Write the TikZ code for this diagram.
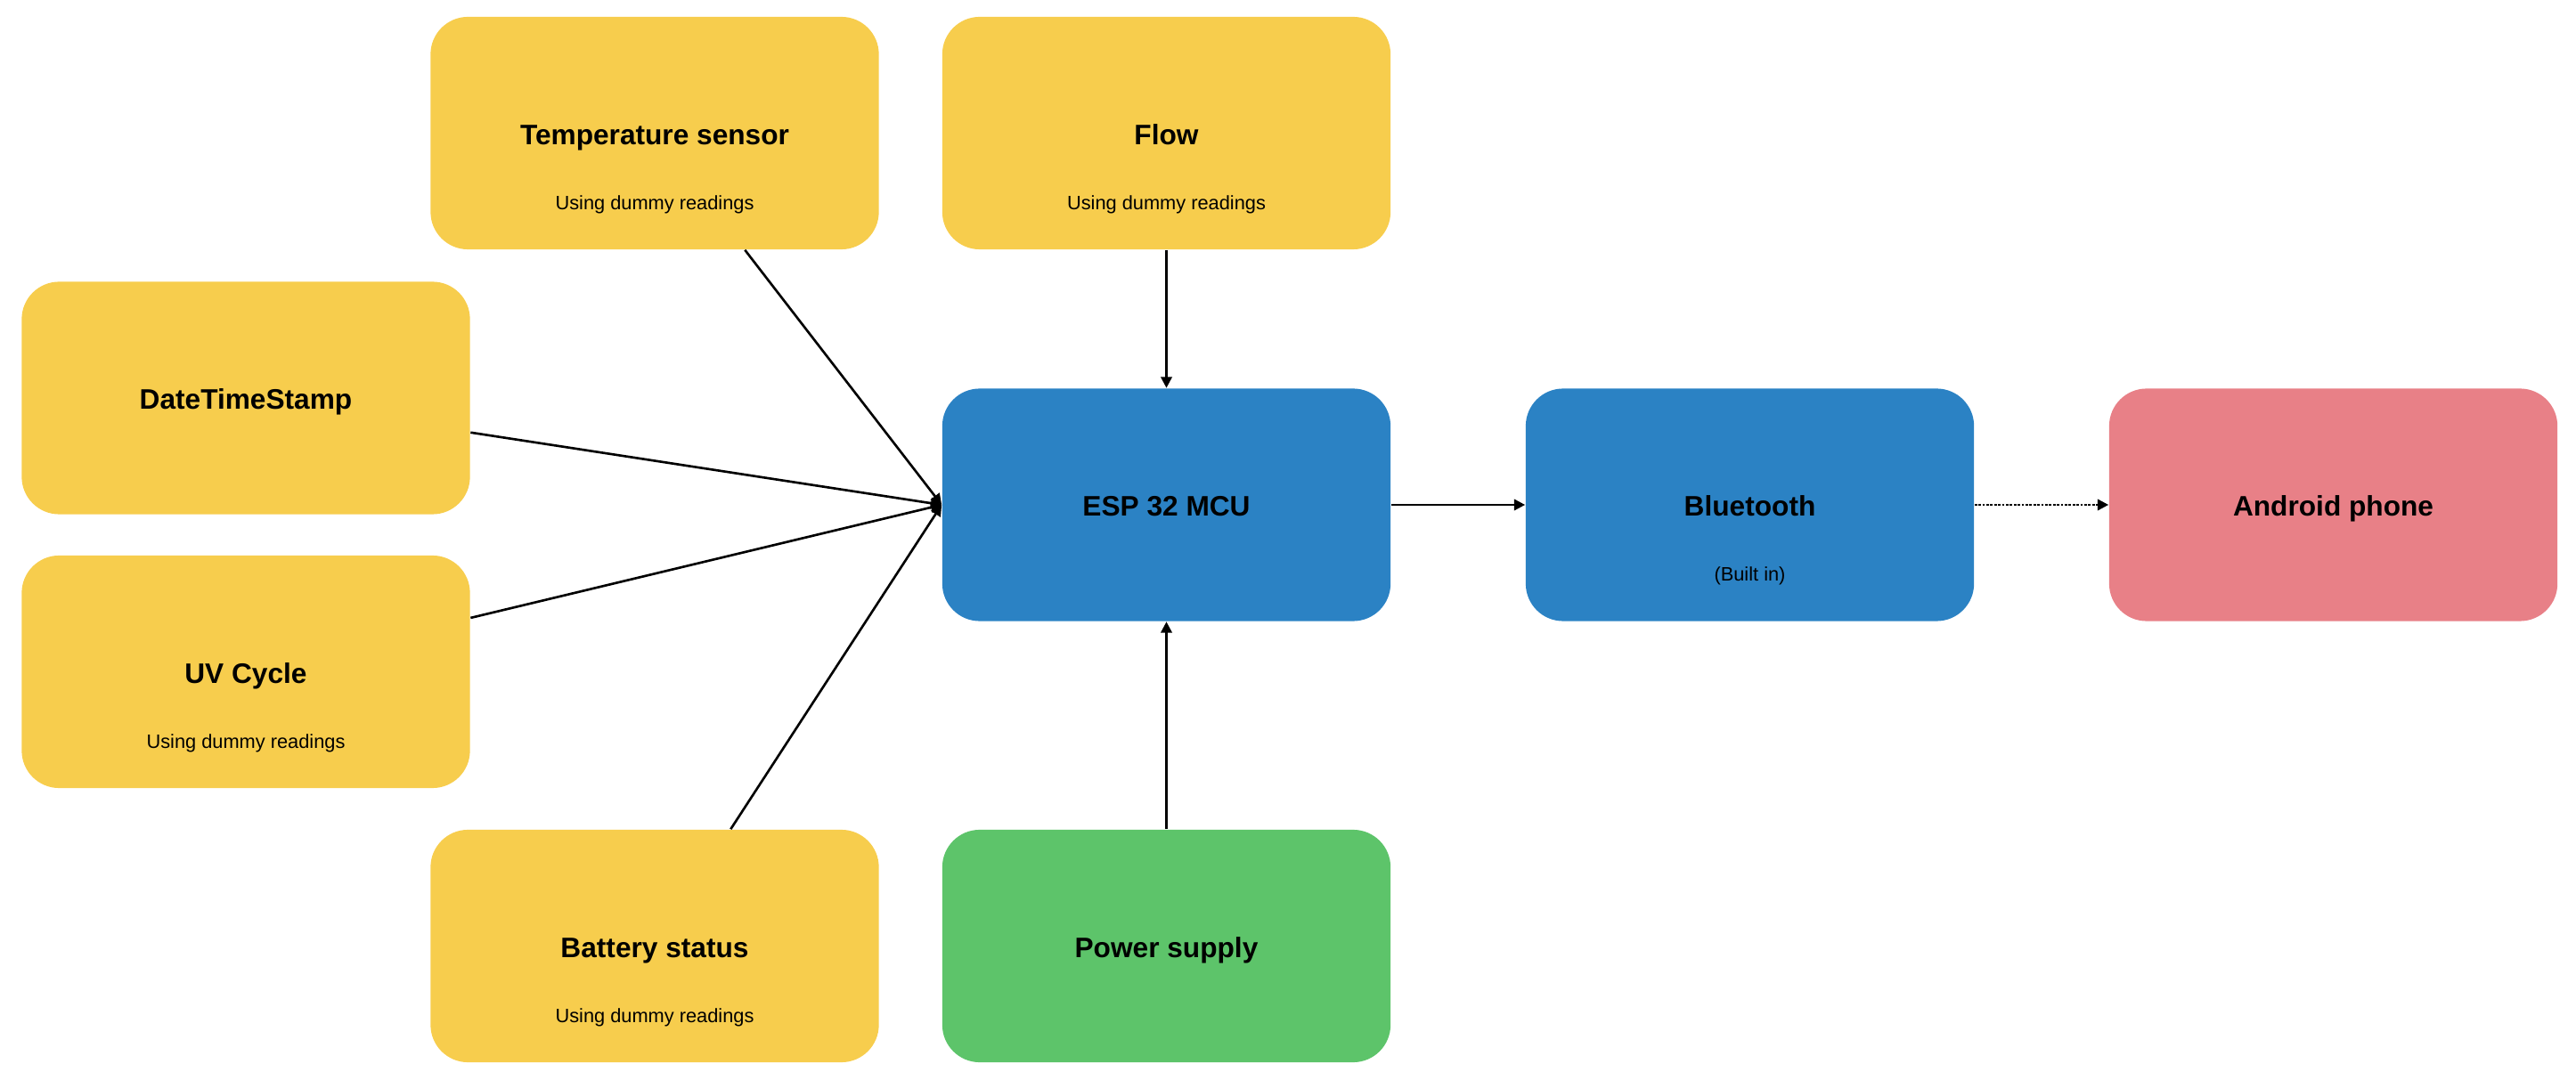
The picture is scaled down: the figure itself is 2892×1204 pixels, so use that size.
\documentclass[tikz,border=0pt]{standalone}
\usepackage{fontspec}
\setmainfont{Liberation Sans}
\usetikzlibrary{arrows.meta}
\definecolor{cyellow}{RGB}{247,205,77}
\definecolor{cblue}{RGB}{43,130,196}
\definecolor{cpink}{RGB}{232,128,135}
\definecolor{cgreen}{RGB}{93,196,106}
\tikzset{
  box/.style={rectangle, rounded corners=0.42cm, minimum width=5.03cm, minimum height=2.61cm, inner sep=0pt, text height=0.716em, text depth=0pt, font=\fontsize{9}{11}\selectfont\bfseries, text=black},
  ybox/.style={box, fill=cyellow},
  bbox/.style={box, fill=cblue},
  pbox/.style={box, fill=cpink},
  gbox/.style={box, fill=cgreen},
  subtxt/.style={inner sep=0pt, text height=0.716em, text depth=0pt, font=\fontsize{6.2}{7.5}\selectfont, text=black},
  arr/.style={line width=0.75pt, -{Triangle[length=3.5pt, width=3.5pt]}},
  dotarr/.style={arr, dash pattern=on 0.8pt off 0.45pt}
}
\begin{document}
\begin{tikzpicture}[x=0.01cm, y=-0.01cm]
\useasboundingbox (0,0) rectangle (2892,1204);
\node[ybox] (temp) at (735,149.5) {Temperature sensor};
\node[ybox] (flow) at (1309.5,149.5) {Flow};
\node[ybox] (dts) at (276,447) {DateTimeStamp};
\node[ybox] (uv) at (276,754.5) {UV Cycle};
\node[ybox] (batt) at (735,1062.5) {Battery status};
\node[gbox] (power) at (1309.5,1062.5) {Power supply};
\node[bbox] (esp) at (1309.5,567) {ESP 32 MCU};
\node[bbox] (bt) at (1964.5,567) {Bluetooth};
\node[pbox] (android) at (2619.5,567) {Android phone};
\node[subtxt] (tempsub) at ([yshift=-0.73cm]temp.center) {Using dummy readings};
\node[subtxt] (flowsub) at ([yshift=-0.73cm]flow.center) {Using dummy readings};
\node[subtxt] (uvsub) at ([yshift=-0.73cm]uv.center) {Using dummy readings};
\node[subtxt] (battsub) at ([yshift=-0.73cm]batt.center) {Using dummy readings};
\node[subtxt] (btsub) at ([yshift=-0.73cm]bt.center) {(Built in)};
\draw[arr] (temp) -- (esp.west);
\draw[arr] (dts) -- (esp.west);
\draw[arr] (uv) -- (esp.west);
\draw[arr] (batt) -- (esp.west);
\draw[arr] (flow) -- (esp);
\draw[arr] (power) -- (esp);
\draw[arr] (esp) -- (bt);
\draw[dotarr] (bt) -- (android);
\end{tikzpicture}
\end{document}
